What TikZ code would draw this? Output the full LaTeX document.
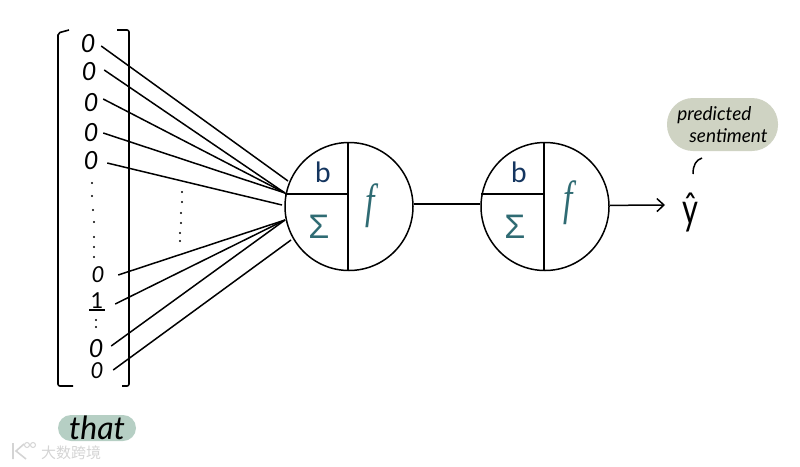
\documentclass[tikz,border=0pt]{standalone}
\usepackage{fontspec}
\usepackage{graphicx}
\usepackage{xcolor}
\setmainfont{Lato}
\newfontfamily\cjk{Noto Sans CJK SC}
\newfontfamily\serifit{Liberation Serif}
\newfontfamily\sanssum{Liberation Sans}
\usetikzlibrary{arrows.meta, calc}
\definecolor{navyb}{HTML}{14355F}
\definecolor{tealf}{HTML}{2F6B73}
\definecolor{pillgrey}{HTML}{CFD3C3}
\definecolor{pillgreen}{HTML}{B6CFC4}
\definecolor{markgrey}{HTML}{D4D4D4}
\newcommand{\slim}[1]{\scalebox{0.7}[1]{#1}}
\begin{document}
\begin{tikzpicture}[x=1pt, y=-1pt, >={Straight Barb[length=7pt,width=13pt]},
    bit/.style ={minimum width=26pt, minimum height=20pt, inner sep=0pt, font=\fontsize{25}{25}\selectfont\itshape},
    smallbit/.style={bit, font=\fontsize{22}{22}\selectfont\itshape},
    neuron/.style={draw, circle, minimum size=128pt, inner sep=0pt, line width=1.5pt},
    part/.style ={line width=1.5pt},
    wire/.style ={line width=1.5pt},
    pill/.style ={inner sep=0pt},
    bias/.style ={text=navyb, font=\fontsize{28}{28}\selectfont},
    sumof/.style={text=tealf, font=\sanssum\fontsize{34}{34}\selectfont},
    act/.style  ={text=tealf, font=\serifit\itshape\fontsize{48}{48}\selectfont}]
    \useasboundingbox (0,0) rectangle (800,466);
    % input vector
    \draw[line width=1.6pt, rounded corners=2pt] (69,30) -- (58,33) -- (58,386) -- (73,386);
    \draw[line width=1.6pt, rounded corners=2pt] (117,30) -- (129,30) -- (129,386) -- (122,386);
    \node[bit] (z1) at (88,44) {0};
    \node[bit] (z2) at (89,72) {0};
    \node[bit] (z3) at (91,103) {0};
    \node[bit] (z4) at (91,133) {0};
    \node[bit] (z5) at (91,161) {0};
    \node[smallbit] (z6) at (98,275) {0};
    \node[bit, font=\fontsize{22}{22}\selectfont] (one) at (97,301) {1};
    \node[bit] (z7) at (96,349) {0};
    \node[smallbit] (z8) at (97,371) {0};
    \draw[line width=1.3pt] (89,310) -- (105,310);
    % dots
    \foreach \x/\y in {92/183,92/196,93/210,94/222,94/237,94/247,94/257,96/320,96/327}
      \fill (\x,\y) circle (1.1pt);
    \foreach \x/\y in {182/192,182/202,181/213,181/223,180/233,180/241}
      \fill (\x,\y) circle (1.1pt);
    % neurons
    \node[neuron] (n1) at (349,206.5) {};
    \node[neuron] (n2) at (545,206.5) {};
    \foreach \n in {n1,n2} {
      \draw[part] ([xshift=-1pt]\n.north) -- ([xshift=-1pt]\n.south);
    }
    \draw[part, line width=2pt] (n1.169) -- (n1.169 -| n1.north);
    \draw[part] (n2.169) -- ([xshift=-2pt]n2.169 -| n2.north);
    \node[bias] (b1) at (323,172) {b};
    \node[sumof] (s1) at (319,227) {Σ};
    \node[act] (f1) at (370,206) {\slim{f}};
    \node[bias] (b2) at (519,172) {b};
    \node[sumof] (s2) at (515,227) {Σ};
    \node[act] (f2) at (568,203) {\slim{f}};
    % wires
    \coordinate (h0) at (288,181);
    \coordinate (h1) at (285,193);
    \coordinate (h2) at (282,205);
    \coordinate (h3) at (285,220);
    \coordinate (h4) at (291,240);
    \foreach \n/\h/\dx/\dy in {z1/h0/0/-2, z2/h1/2/2, z3/h1/-1/4, z4/h1/-1/0, z5/h2/3/-2, z6/h3/7/0, one/h3/5/-3, z7/h3/2/3, z8/h4/3/1}
      \draw[wire] ([xshift=\dx,yshift=\dy]\n.east) -- (\h);
    \draw[wire] (n1.2) -- (n2.178);
    \coordinate (out) at (665,205);
    \draw[wire, ->] (n2.1) -- (out);
    % labels
    \node[fill=pillgrey, pill, align=left, minimum width=111pt, minimum height=53pt, rounded corners=26pt, font=\fontsize{19}{23}\selectfont\itshape] (sent) at (722.5,124.5) {predicted\\[-1pt]\hspace*{12pt}sentiment};
    \node[font=\fontsize{44}{44}\selectfont] (yhat) at (690,213) {\scalebox{0.7}[1]{ŷ}};
    \draw[wire] (693,174) .. controls (693,165) and (696,160) .. (702,158);
    \node[fill=pillgreen, pill, align=center, minimum width=78pt, minimum height=26pt, rounded corners=13pt, font=\fontsize{32}{32}\selectfont\itshape] (word) at (97,428) {that};
    \node[anchor=west, inner sep=0pt, text=markgrey, font=\cjk\fontsize{15}{15}\selectfont] (mark) at (41,453) {大数跨境};
    \draw[markgrey, line width=1.6pt] (13,443) -- (13,459) (24,444) -- (16,451) -- (26,459);
    \draw[markgrey, line width=1pt] (27,445) circle (2.5pt) (33,445) circle (2.5pt);
\end{tikzpicture}
\end{document}
